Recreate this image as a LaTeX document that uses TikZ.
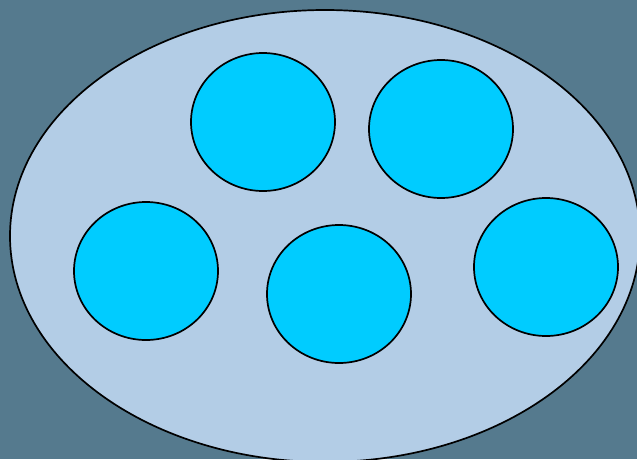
\documentclass[tikz,border=0pt]{standalone}
\usetikzlibrary{shapes.geometric}
\definecolor{bgc}{HTML}{557A8E}
\definecolor{outerc}{HTML}{B3CDE6}
\definecolor{innerc}{HTML}{00CCFF}
\begin{document}
\begin{tikzpicture}[x=1pt,y=-1pt,
  outer/.style={fill=outerc,draw=black,line width=1.7pt},
  inner/.style={fill=innerc,draw=black,line width=1.7pt}]
\fill[bgc] (0,0) rectangle (637,459);
\useasboundingbox (0,0) rectangle (637,459);
\begin{scope}
\clip (0,0) rectangle (637,459);
\draw[outer] (325,236) ellipse [x radius=315, y radius=226];
\end{scope}
\draw[inner] (263,122) ellipse [x radius=72, y radius=69];
\draw[inner] (441,129) ellipse [x radius=72, y radius=69];
\draw[inner] (146,271) ellipse [x radius=72, y radius=69];
\draw[inner] (339,294) ellipse [x radius=72, y radius=69];
\draw[inner] (546,267) ellipse [x radius=72, y radius=69];
\end{tikzpicture}
\end{document}
